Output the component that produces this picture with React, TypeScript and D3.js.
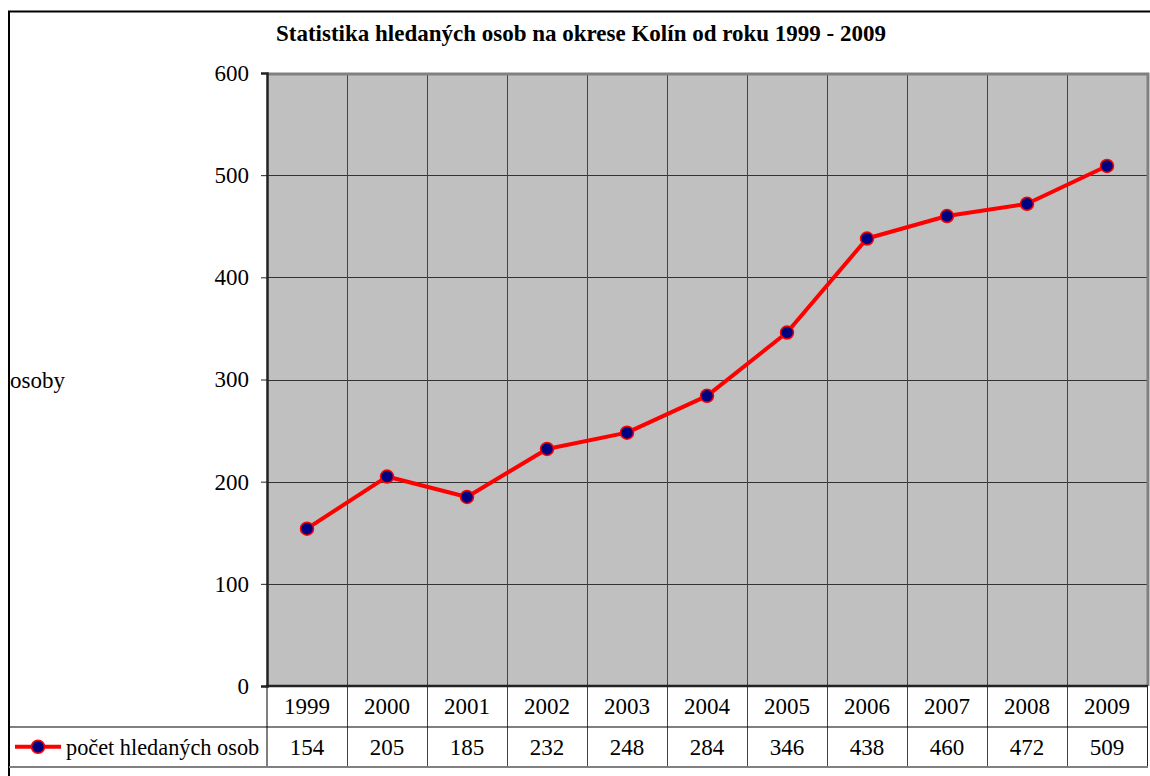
import React, { useEffect, useRef } from 'react';
import * as d3 from 'd3';

const years = ['1999', '2000', '2001', '2002', '2003', '2004', '2005', '2006', '2007', '2008', '2009'];
const persons = [154, 205, 185, 232, 248, 284, 346, 438, 460, 472, 509];
const yTicks = [0, 100, 200, 300, 400, 500, 600];
const seriesName = 'počet hledaných osob';
const title = 'Statistika hledaných osob na okrese Kolín od roku 1999 - 2009';
const yLabel = 'osoby';

export default function App() {
    const ref = useRef<SVGSVGElement>(null);

    useEffect(() => {
        const width = 1150;
        const height = 776;
        const left = 267, right = 1147, top = 73, bottom = 686;
        const rowH = 40.5;
        const font = 'Liberation Serif, Times New Roman, serif';
        const fs = 23;

        const svg = d3.select(ref.current);
        svg.selectAll('*').remove();
        svg.attr('width', width).attr('height', height);

        svg.append('rect').attr('width', width).attr('height', height).attr('fill', '#fff');

        // outer frame
        svg.append('path')
            .attr('d', `M9,${height} V11.5 H${width}`)
            .attr('fill', 'none').attr('stroke', '#000').attr('stroke-width', 2);

        const x = d3.scaleBand().domain(years).range([left, right]);
        const y = d3.scaleLinear().domain([0, 600]).range([bottom, top]);

        // plot area
        svg.append('rect')
            .attr('x', left).attr('y', top)
            .attr('width', right - left).attr('height', bottom - top)
            .attr('fill', '#c0c0c0');

        // horizontal grid
        svg.append('g')
            .selectAll('line')
            .data(yTicks.slice(1, -1))
            .join('line')
            .attr('x1', left).attr('x2', right)
            .attr('y1', d => Math.round(y(d)) + 0.5).attr('y2', d => Math.round(y(d)) + 0.5)
            .attr('stroke', '#333').attr('stroke-width', 1);

        // vertical grid (extends through table)
        svg.append('g')
            .selectAll('line')
            .data(years.slice(1))
            .join('line')
            .attr('x1', d => Math.round(x(d)!) + 0.5).attr('x2', d => Math.round(x(d)!) + 0.5)
            .attr('y1', top).attr('y2', bottom + 2 * rowH)
            .attr('stroke', '#444').attr('stroke-width', 1);

        // top & right border of plot
        svg.append('path')
            .attr('d', `M${left},${top + 1} H${right + 1} V${bottom}`)
            .attr('fill', 'none').attr('stroke', '#808080').attr('stroke-width', 3);

        // table lines
        svg.append('line')
            .attr('x1', 8).attr('x2', right)
            .attr('y1', bottom + rowH + 0.5).attr('y2', bottom + rowH + 0.5)
            .attr('stroke', '#000').attr('stroke-width', 1);
        svg.append('line')
            .attr('x1', left).attr('x2', left)
            .attr('y1', bottom).attr('y2', bottom + 2 * rowH)
            .attr('stroke', '#000').attr('stroke-width', 1);
        svg.append('line')
            .attr('x1', right + 0.5).attr('x2', right + 0.5)
            .attr('y1', bottom).attr('y2', bottom + 2 * rowH)
            .attr('stroke', '#222').attr('stroke-width', 1);
        svg.append('line')
            .attr('x1', 9).attr('x2', right + 1)
            .attr('y1', bottom + 2 * rowH).attr('y2', bottom + 2 * rowH)
            .attr('stroke', '#808080').attr('stroke-width', 2);

        // axes
        const yAxis = svg.append('g')
            .attr('transform', `translate(${left},0)`)
            .call(d3.axisLeft(y).tickValues(yTicks).tickSize(6).tickPadding(12));
        yAxis.attr('font-family', font).attr('font-size', fs);
        yAxis.select('.domain').attr('stroke', '#222').attr('stroke-width', 2.5);
        yAxis.selectAll('.tick line').attr('stroke', '#222');
        yAxis.selectAll('text')
            .style('font-family', font).style('font-size', `${fs}px`).attr('fill', '#000');

        svg.append('line')
            .attr('x1', left - 1).attr('x2', right + 1)
            .attr('y1', bottom).attr('y2', bottom)
            .attr('stroke', '#222').attr('stroke-width', 2.5);

        const txt = (sel: any, size = fs) => sel.style('font-family', font).style('font-size', `${size}px`);

        // table text
        svg.append('g')
            .selectAll('text')
            .data(years)
            .join('text')
            .attr('x', d => x(d)! + x.bandwidth() / 2)
            .attr('y', bottom + rowH / 2 + 8)
            .attr('text-anchor', 'middle')
            .call(txt)
            .text(d => d);
        svg.append('g')
            .selectAll('text')
            .data(persons)
            .join('text')
            .attr('x', (d, i) => x(years[i])! + x.bandwidth() / 2)
            .attr('y', bottom + rowH * 1.5 + 8)
            .attr('text-anchor', 'middle')
            .call(txt)
            .text(d => d);

        // legend key in table
        const ly = bottom + rowH * 1.5;
        svg.append('line')
            .attr('x1', 15).attr('x2', 61).attr('y1', ly).attr('y2', ly)
            .attr('stroke', '#ff0000').attr('stroke-width', 4);
        svg.append('circle')
            .attr('cx', 38).attr('cy', ly).attr('r', 6.5)
            .attr('fill', '#000080').attr('stroke', '#ff0000').attr('stroke-width', 1.5);
        svg.append('text')
            .attr('x', 66).attr('y', ly + 8)
            .call(txt, 22.3)
            .text(seriesName);

        // series line
        const line = d3.line<number>()
            .x((d, i) => x(years[i])! + x.bandwidth() / 2)
            .y(d => y(d));
        svg.append('path')
            .datum(persons)
            .attr('d', line)
            .attr('fill', 'none')
            .attr('stroke', '#ff0000').attr('stroke-width', 4)
            .attr('stroke-linejoin', 'round');
        svg.append('g')
            .selectAll('circle')
            .data(persons)
            .join('circle')
            .attr('cx', (d, i) => x(years[i])! + x.bandwidth() / 2)
            .attr('cy', d => y(d))
            .attr('r', 6.5)
            .attr('fill', '#000080').attr('stroke', '#ff0000').attr('stroke-width', 1.5);

        // title
        svg.append('text')
            .attr('x', 581).attr('y', 41)
            .attr('text-anchor', 'middle')
            .call(txt)
            .style('font-weight', 'bold')
            .text(title);

        // y label
        svg.append('text')
            .attr('x', 10).attr('y', 388)
            .call(txt)
            .text(yLabel);
    }, []);

    return (
        <svg ref={ref} style={{ position: 'absolute', left: 0, top: 0, display: 'block' }} />
    );
}
